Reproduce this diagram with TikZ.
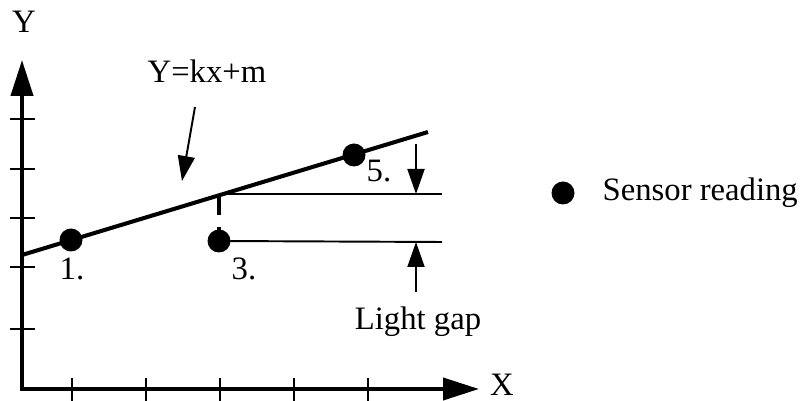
\documentclass[tikz,border=0pt]{standalone}
\usepackage{fontspec}
\setmainfont{Liberation Serif}
\usetikzlibrary{positioning,arrows.meta}
\tikzset{
  reading/.style={circle,fill=black,inner sep=0pt,minimum size=0.46cm},
  lbl/.style={font=\fontsize{18.6}{22}\selectfont,inner sep=0pt},
  axisline/.style={line width=2.3pt,line join=miter,
            {Triangle[length=0.72cm,width=0.44cm]}-{Triangle[length=0.72cm,width=0.44cm]}},
  tickmark/.style={line width=1.6pt},
  fitline/.style={line width=2.3pt},
  level/.style={line width=1.1pt},
  gaparrow/.style={line width=1.1pt,-{Triangle[length=0.5cm,width=0.34cm]}},
}

\begin{document}
\begin{tikzpicture}[x=0.02cm,y=-0.02cm]
  \useasboundingbox (0,0) rectangle (802,401);
  % axes
  \coordinate (origin) at (22,389);
  \coordinate (ytop) at (22,60);
  \coordinate (xend) at (479,389);
  \draw[axisline] (ytop) -- (origin) -- (xend);
  \foreach \y in {119,169,218,267,329}
    \draw[tickmark] (10,\y) -- (35,\y);
  \foreach \x in {72,146,220,294,368}
    \draw[tickmark] (\x,378) -- (\x,401);
  \node[lbl,anchor=base] (ylabel) at (24,33) {Y};
  \node[lbl,anchor=base] (xlabel) at (502,396) {X};

  % fitted line and readings
  \coordinate (fitstart) at (22,255);
  \coordinate (fitend) at (428,132);
  \draw[fitline] (fitstart) -- (fitend);
  \node[reading] (p1) at (71,240) {};
  \node[reading] (p3) at (219,241) {};
  \node[reading] (p5) at (354,155) {};
  \node[lbl,anchor=base] (n1) at (72,280) {1.};
  \node[lbl,anchor=base] (n3) at (244,280) {3.};
  \node[lbl,anchor=base] (n5) at (379,182) {5.};

  % levels and light gap
  \coordinate (proj) at (219,194);
  \coordinate (upperend) at (442,194);
  \coordinate (lowerend) at (442,242);
  \draw[level] (proj) -- (upperend);
  \draw[level] (p3.center) -- (lowerend);
  \draw[line width=2pt,dash pattern=on 0.42cm off 0.24cm] (proj) -- (p3.center);
  \coordinate (gapabove) at (416,144);
  \coordinate (gapupper) at (416,194);
  \coordinate (gaplower) at (416,242);
  \coordinate (gapbelow) at (416,292);
  \draw[gaparrow] (gapabove) -- (gapupper);
  \draw[gaparrow] (gapbelow) -- (gaplower);
  \node[lbl,anchor=base] (gap) at (418,330) {Light gap};

  % equation
  \node[lbl,anchor=base] (eq) at (207,83) {Y=kx+m};
  \coordinate (eqtail) at (195,107);
  \coordinate (eqtip) at (182,181);
  \draw[gaparrow] (eqtail) -- (eqtip);

  % legend
  \node[reading] (legdot) at (563,193) {};
  \node[lbl,right=0.55cm of legdot] (legtext) {Sensor reading};
\end{tikzpicture}
\end{document}
